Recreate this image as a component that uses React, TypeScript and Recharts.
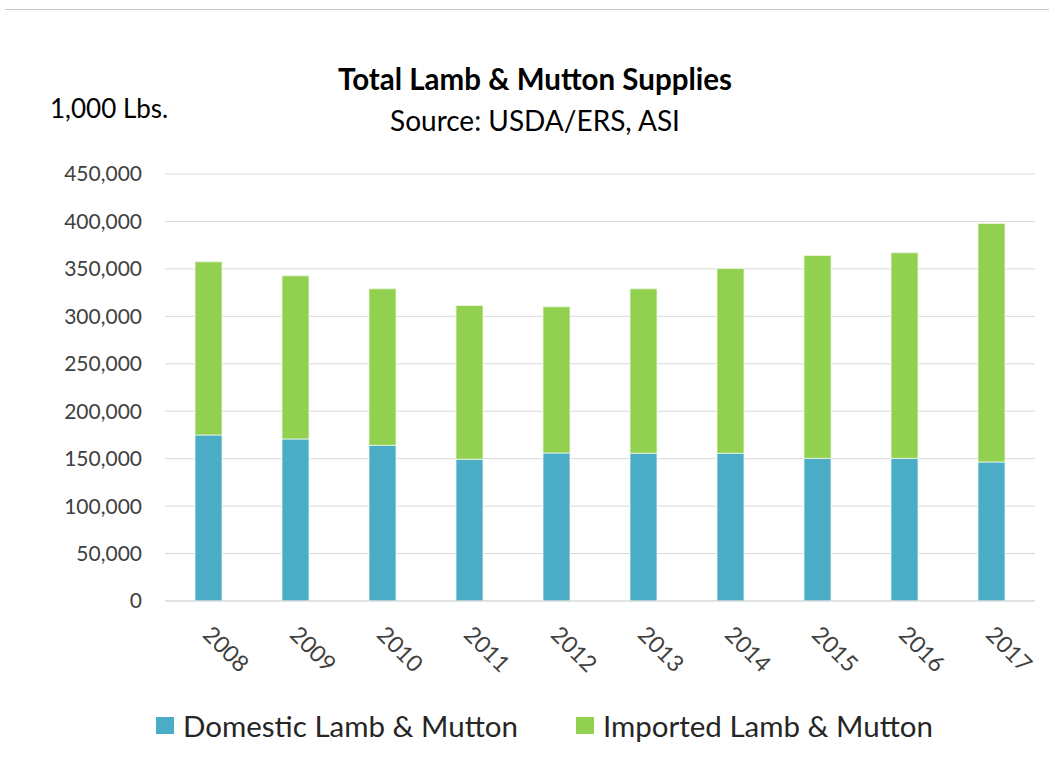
import { BarChart, Bar, XAxis, YAxis, CartesianGrid, Legend } from "recharts";

const FONT = "Lato, 'Open Sans', sans-serif";

const years = ["2008", "2009", "2010", "2011", "2012", "2013", "2014", "2015", "2016", "2017"];
// 1,000 lbs
const domestic = [175000, 170800, 164100, 149400, 156000, 155700, 155700, 150400, 150400, 146500];
const imported = [182500, 171900, 164900, 162000, 154000, 173300, 194700, 213700, 216600, 251400];
const yTicks = [0, 50000, 100000, 150000, 200000, 250000, 300000, 350000, 400000, 450000];

const seriesNames = ["Domestic Lamb & Mutton", "Imported Lamb & Mutton"];
const seriesColors = ["#4BACC6", "#92D050"];

const data = years.map((year, i) => ({
    year,
    domestic: domestic[i],
    imported: imported[i]
}));

const YearTick = (props: any) => {
    const { x, y, payload } = props;
    return (
        <g transform={`translate(${x - 7},${y + 35})`}>
            <text transform="rotate(45)" textAnchor="start" fill="#404040" fontSize={23} fontFamily={FONT}>
                {payload.value}
            </text>
        </g>
    );
};

const renderLegend = () => (
    <div style={{ display: "flex", justifyContent: "center", gap: 58, paddingLeft: 40, fontFamily: FONT, fontSize: 29.5, color: "#262626" }}>
        {seriesNames.map((name, i) => (
            <div key={name} style={{ display: "flex", alignItems: "center" }}>
                <span style={{ display: "inline-block", width: 18, height: 17, background: seriesColors[i], marginRight: 9 }} />
                <span>{name}</span>
            </div>
        ))}
    </div>
);

export default function App() {
    return (
        <div style={{ position: "relative", width: 1049, height: 769, background: "#fff" }}>
            <style>{"body{margin:0}"}</style>
            <div style={{ position: "absolute", top: 9, left: 5, width: 1044, height: 1, background: "#c8c8c8" }} />
            <div style={{ position: "absolute", top: 64, left: 0, width: 1070, textAlign: "center", fontFamily: FONT, fontSize: 29.5, fontWeight: 700, lineHeight: 1, color: "#000" }}>
                Total Lamb &amp; Mutton Supplies
            </div>
            <div style={{ position: "absolute", top: 106, left: 0, width: 1070, textAlign: "center", fontFamily: FONT, fontSize: 28, lineHeight: 1, color: "#000" }}>
                Source: USDA/ERS, ASI
            </div>
            <div style={{ position: "absolute", top: 95, left: 50, fontFamily: FONT, fontSize: 26, lineHeight: 1, color: "#000" }}>
                1,000 Lbs.
            </div>
            <BarChart
                width={1049}
                height={769}
                data={data}
                margin={{ top: 174, right: 14, left: 0, bottom: 88 }}
                style={{ position: "absolute", top: 0, left: 0 }}
            >
                <CartesianGrid vertical={false} stroke="#d9d9d9" />
                <XAxis
                    dataKey="year"
                    height={80}
                    tickLine={false}
                    tickSize={0}
                    tickMargin={0}
                    axisLine={{ stroke: "#d9d9d9" }}
                    tick={<YearTick />}
                    interval={0}
                />
                <YAxis
                    width={165}
                    domain={[0, 450000]}
                    ticks={yTicks}
                    tickLine={false}
                    axisLine={false}
                    tickMargin={17}
                    tickFormatter={(v: number) => v.toLocaleString("en-US")}
                    tick={{ fill: "#404040", fontSize: 21, fontFamily: FONT }}
                />
                <Bar dataKey="domestic" name={seriesNames[0]} stackId="a" fill={seriesColors[0]} stroke="#eaf6f9" strokeWidth={0.8} barSize={27} isAnimationActive={false} />
                <Bar dataKey="imported" name={seriesNames[1]} stackId="a" fill={seriesColors[1]} stroke="#eef8e4" strokeWidth={0.8} barSize={27} isAnimationActive={false} />
                <Legend
                    verticalAlign="middle"
                    align="center"
                    layout="horizontal"
                    content={renderLegend}
                    wrapperStyle={{ top: 708, left: 0, width: 1049 }}
                />
            </BarChart>
        </div>
    );
}
